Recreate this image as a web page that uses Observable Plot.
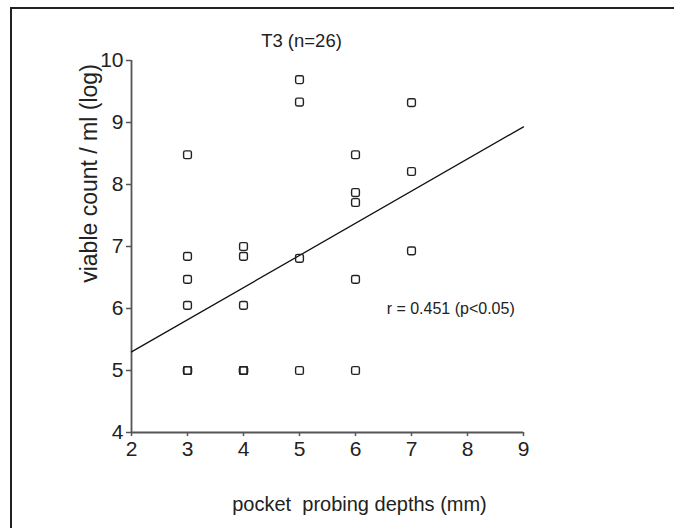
<!DOCTYPE html>
<html>
<head>
<meta charset="utf-8">
<script src="https://cdn.jsdelivr.net/npm/d3@7"></script>
<script src="https://cdn.jsdelivr.net/npm/@observablehq/plot@0.6"></script>
<style>
  html, body { margin: 0; padding: 0; background: #fff; }
  #wrap { position: relative; width: 674px; height: 528px; overflow: hidden; }
  #frame { position: absolute; left: 10px; top: 7px; right: -10px; bottom: -10px;
           border-top: 2px solid #222; border-left: 2px solid #222; }
  #chart { position: absolute; left: 0; top: 0; }
</style>
</head>
<body>
<div id="wrap"><div id="frame"></div><div id="chart"></div></div>
<script>
// Data
const depth = [3,3,3,3,3,3,3, 4,4,4,4,4,4,4, 5,5,5,5, 6,6,6,6,6, 7,7,7];
const count = [8.48,6.84,6.47,6.05,5.0,5.0,5.0, 7.0,6.84,6.05,5.0,5.0,5.0,5.0, 9.69,9.33,6.81,5.0, 8.48,7.87,7.71,6.47,5.0, 9.32,8.21,6.93];
const fitX = [2, 9];
const fitY = [5.30, 8.93];
const xTicks = [2,3,4,5,6,7,8,9];
const yTicks = [4,5,6,7,8,9,10];
const titleText = "T3 (n=26)";
const xLabel = "pocket  probing depths (mm)";
const yLabel = "viable count / ml (log)";
const annotation = [{x: 7.7, y: 6.0, text: "r = 0.451 (p<0.05)"}];

const points = depth.map((d, i) => ({depth: d, count: count[i]}));
const fit = fitX.map((x, i) => ({x, y: fitY[i]}));

const roundedSquare = {
  draw(ctx, size) {
    const w = Math.sqrt(size) / 2;
    const r = w * 0.45;
    ctx.moveTo(-w + r, -w);
    ctx.lineTo(w - r, -w);
    ctx.arcTo(w, -w, w, -w + r, r);
    ctx.lineTo(w, w - r);
    ctx.arcTo(w, w, w - r, w, r);
    ctx.lineTo(-w + r, w);
    ctx.arcTo(-w, w, -w, w - r, r);
    ctx.lineTo(-w, -w + r);
    ctx.arcTo(-w, -w, -w + r, -w, r);
    ctx.closePath();
  }
};

const font = "'Liberation Sans', Arial, Helvetica, sans-serif";
const fmt = d3.format("d");

const chart = Plot.plot({
  width: 674,
  height: 528,
  marginLeft: 131,
  marginRight: 151,
  marginTop: 60,
  marginBottom: 96,
  style: {fontFamily: font, fontSize: "20px", color: "#222", background: "transparent"},
  x: {domain: [2, 9], label: null},
  y: {domain: [4, 10], label: null},
  marks: [
    Plot.axisX({ticks: xTicks, tickFormat: fmt, tickSize: 4, tickPadding: 5, label: null, stroke: "#555", strokeWidth: 1.5, fontSize: 21, fill: "#222"}),
    Plot.axisY({ticks: yTicks, tickFormat: fmt, tickSize: 5, tickPadding: 3, label: null, stroke: "#555", strokeWidth: 1.5, fontSize: 21, fill: "#222"}),
    Plot.ruleX([2], {stroke: "#555", strokeWidth: 1.8}),
    Plot.ruleY([4], {stroke: "#555", strokeWidth: 1.8}),
    Plot.line(fit, {x: "x", y: "y", stroke: "#111", strokeWidth: 1.3}),
    Plot.dot(points, {x: "depth", y: "count", symbol: roundedSquare, r: 4.4, stroke: "#222", strokeWidth: 1.4, fill: "none"}),
    Plot.text(annotation, {x: "x", y: "y", text: "text", fontSize: 16, fill: "#222"}),
    Plot.text([titleText], {frameAnchor: "top-left", dx: 301 - 131, dy: -27, text: d => d, fontSize: 18.5, fill: "#222", textAnchor: "middle"}),
    Plot.text([xLabel], {frameAnchor: "bottom-left", dx: 359 - 131, dy: 78, text: d => d, fontSize: 20, fill: "#222", textAnchor: "middle"}),
    Plot.text([yLabel], {frameAnchor: "top-left", dx: -51, dy: 113, rotate: -90, text: d => d, fontSize: 23, fill: "#222", textAnchor: "middle"})
  ]
});
document.getElementById("chart").appendChild(chart);
</script>
</body>
</html>
